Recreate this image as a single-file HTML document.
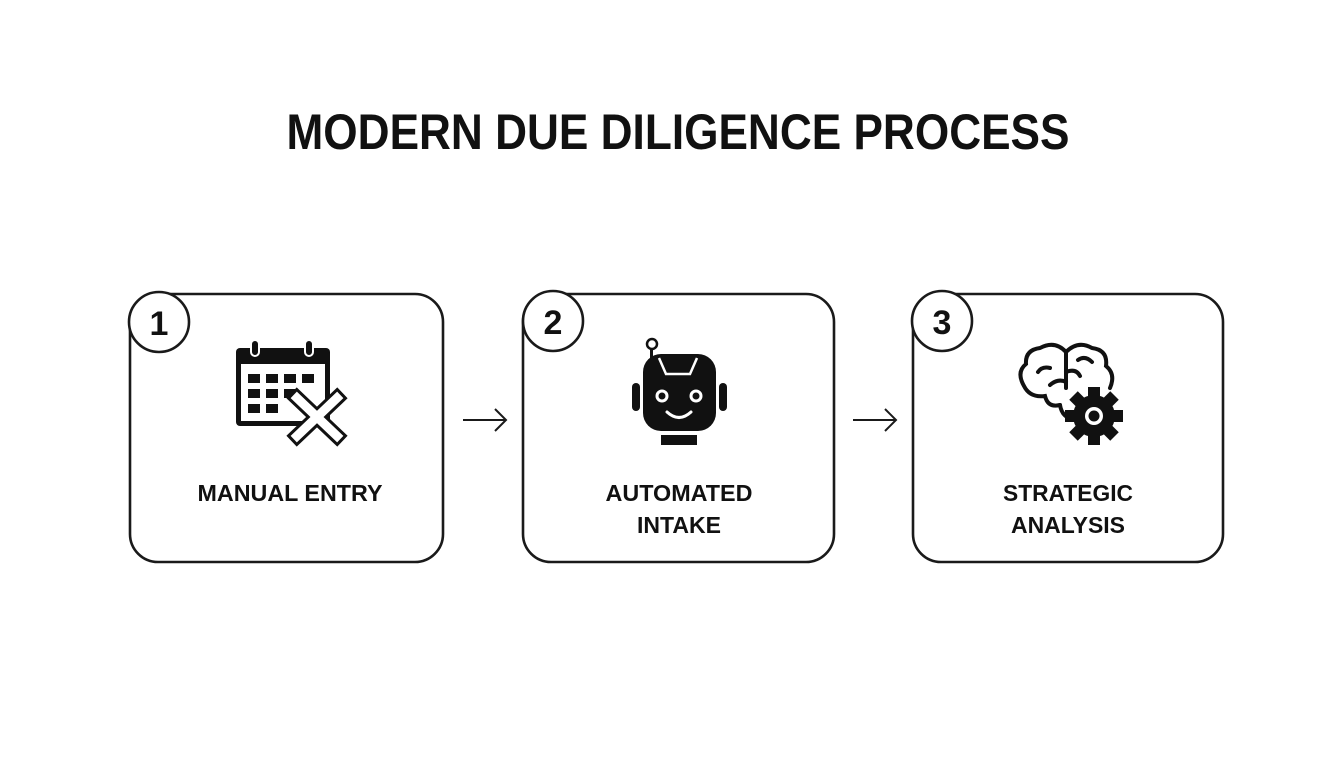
<!DOCTYPE html>
<html><head><meta charset="utf-8"><style>html,body{margin:0;padding:0;background:#fff}svg{display:block}</style></head>
<body>
<svg width="1344" height="768" viewBox="0 0 1344 768" xmlns="http://www.w3.org/2000/svg" font-family="Liberation Sans, sans-serif">
<rect width="1344" height="768" fill="#fff"/>
<text x="678" y="149" text-anchor="middle" font-size="50" font-weight="bold" fill="#111" textLength="783" lengthAdjust="spacingAndGlyphs">MODERN DUE DILIGENCE PROCESS</text>
<g fill="none" stroke="#1a1a1a" stroke-width="2.6">
<rect x="130" y="294" width="313" height="268" rx="28"/>
<rect x="523" y="294" width="311" height="268" rx="28"/>
<rect x="913" y="294" width="310" height="268" rx="28"/>
<circle cx="159" cy="322" r="30" fill="#fff"/>
<circle cx="553" cy="321" r="30" fill="#fff"/>
<circle cx="942" cy="321" r="30" fill="#fff"/>
<path d="M463 420H506M495 409L506 420L495 431" stroke-width="2"/>
<path d="M853 420H896M885 409L896 420L885 431" stroke-width="2"/>
</g>
<g font-weight="bold" fill="#111" text-anchor="middle">
<text x="159" y="335" font-size="34">1</text>
<text x="553" y="334" font-size="34">2</text>
<text x="942" y="334" font-size="34">3</text>
<text x="290" y="501" font-size="23" textLength="185" lengthAdjust="spacingAndGlyphs">MANUAL ENTRY</text>
<text x="679" y="501" font-size="23" textLength="147" lengthAdjust="spacingAndGlyphs">AUTOMATED</text>
<text x="679" y="533" font-size="23" textLength="84" lengthAdjust="spacingAndGlyphs">INTAKE</text>
<text x="1068" y="501" font-size="23" textLength="130" lengthAdjust="spacingAndGlyphs">STRATEGIC</text>
<text x="1068" y="533" font-size="23" textLength="114" lengthAdjust="spacingAndGlyphs">ANALYSIS</text>
</g>
<!-- calendar -->
<g>
<rect x="236" y="348" width="94" height="78" rx="4" fill="#111"/>
<rect x="241" y="364" width="84" height="57" fill="#fff"/>
<rect x="251" y="340" width="8" height="16" rx="4" fill="#111" stroke="#fff" stroke-width="2"/>
<rect x="305" y="340" width="8" height="16" rx="4" fill="#111" stroke="#fff" stroke-width="2"/>
<g fill="#111">
<rect x="248" y="374" width="12" height="9"/><rect x="266" y="374" width="12" height="9"/><rect x="284" y="374" width="12" height="9"/><rect x="302" y="374" width="12" height="9"/>
<rect x="248" y="389" width="12" height="9"/><rect x="266" y="389" width="12" height="9"/><rect x="284" y="389" width="12" height="9"/>
<rect x="248" y="404" width="12" height="9"/><rect x="266" y="404" width="12" height="9"/>
</g>
<path d="M297 398L337 436M337 398L297 436" stroke="#111" stroke-width="15" stroke-linecap="square"/>
<path d="M297 398L337 436M337 398L297 436" stroke="#fff" stroke-width="9" stroke-linecap="square"/>
</g>
<!-- robot -->
<g fill="#111">
<circle cx="652" cy="344" r="5" fill="none" stroke="#111" stroke-width="2.5"/>
<rect x="650" y="348" width="3" height="14"/>
<rect x="644" y="355" width="52" height="78" rx="0" fill="none"/>
<rect x="643" y="354" width="73" height="77" rx="18"/>
<rect x="632" y="383" width="8" height="28" rx="4"/>
<rect x="719" y="383" width="8" height="28" rx="4"/>
<rect x="661" y="435" width="36" height="10"/>
<path d="M659 358L666 374H690L697 358" fill="none" stroke="#fff" stroke-width="2.5"/>
<circle cx="662" cy="396" r="5" fill="none" stroke="#fff" stroke-width="3"/>
<circle cx="696" cy="396" r="5" fill="none" stroke="#fff" stroke-width="3"/>
<path d="M667 412Q679 423 691 412" fill="none" stroke="#fff" stroke-width="3" stroke-linecap="round"/>
</g>
<!-- brain + gear -->
<g fill="none" stroke="#111" stroke-width="4" stroke-linecap="round">
<path d="M1066 352Q1055 340 1040 348Q1025 350 1026 364Q1016 372 1024 386Q1030 398 1045 396Q1048 408 1060 405"/>
<path d="M1066 352Q1078 340 1092 348Q1108 350 1106 366Q1116 374 1110 388"/>
<path d="M1066 352V388"/>
<path d="M1038 372Q1042 366 1050 368M1078 360Q1085 355 1092 362M1050 385Q1058 378 1066 382M1066 372Q1076 368 1080 376"/>
<path d="M1060 405Q1062 418 1075 420"/>
</g>
<g fill="#111">
<circle cx="1094" cy="416" r="21"/>
<g transform="translate(1094 416)">
<rect x="-6" y="-29" width="12" height="58"/>
<rect x="-6" y="-29" width="12" height="58" transform="rotate(45)"/>
<rect x="-6" y="-29" width="12" height="58" transform="rotate(90)"/>
<rect x="-6" y="-29" width="12" height="58" transform="rotate(135)"/>
</g>
<circle cx="1094" cy="416" r="9" fill="#fff"/>
<circle cx="1094" cy="416" r="5.5"/>
</g>
</svg>
</body></html>
